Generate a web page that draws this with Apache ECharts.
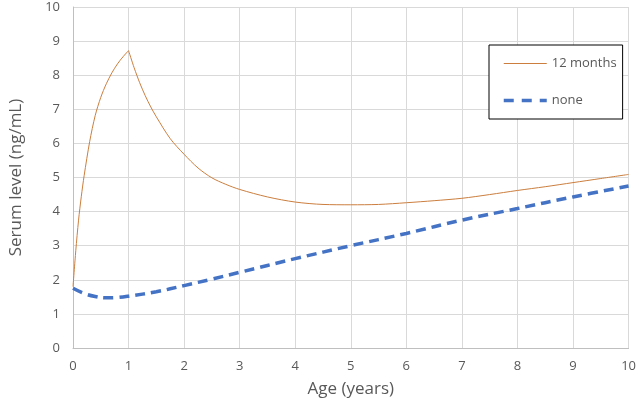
<!DOCTYPE html>
<html>
<head>
<meta charset="utf-8">
<script src="https://cdn.jsdelivr.net/npm/echarts@6/dist/echarts.min.js"></script>
<style>html,body{margin:0;padding:0;background:#fff}#c{width:639px;height:403px}</style>
</head>
<body>
<div id="c"></div>
<script>
var ageMonths12 = [0, 0.05, 0.1, 0.15, 0.2, 0.3, 0.4, 0.5, 0.6, 0.7, 0.8, 0.9, 1.0, 1.1, 1.2, 1.3, 1.4, 1.5, 1.75, 2.0, 2.25, 2.5, 2.75, 3.0, 3.5, 4.0, 4.5, 5.0, 5.5, 6.0, 6.5, 7.0, 7.5, 8.0, 8.5, 9.0, 9.5, 10.0];
var serumMonths12 = [1.8, 2.85, 3.75, 4.45, 5.05, 6.05, 6.82, 7.35, 7.75, 8.07, 8.33, 8.54, 8.72, 8.22, 7.78, 7.4, 7.07, 6.78, 6.14, 5.68, 5.28, 4.99, 4.8, 4.65, 4.43, 4.28, 4.21, 4.2, 4.21, 4.26, 4.32, 4.39, 4.5, 4.62, 4.73, 4.85, 4.97, 5.09];
var peakAge = 1.0;
var ageNone = [0, 0.2, 0.4, 0.6, 0.8, 1.0, 1.5, 2.0, 2.5, 3.0, 4.0, 5.0, 6.0, 7.0, 8.0, 9.0, 10.0];
var serumNone = [1.75, 1.6, 1.51, 1.47, 1.48, 1.52, 1.65, 1.83, 2.02, 2.22, 2.62, 3.0, 3.36, 3.75, 4.09, 4.43, 4.75];
var xTicks = [0, 1, 2, 3, 4, 5, 6, 7, 8, 9, 10];
var yTicks = [0, 1, 2, 3, 4, 5, 6, 7, 8, 9, 10];
var seriesNames = ['12 months', 'none'];

function pairs(xs, ys) { return xs.map(function (x, i) { return [x, ys[i]]; }); }
var m12 = pairs(ageMonths12, serumMonths12);
var m12Rise = m12.filter(function (p) { return p[0] <= peakAge; });
var m12Fall = m12.filter(function (p) { return p[0] >= peakAge; });

var FONT = '"Open Sans", sans-serif';
var ORANGE = '#CB7E3E';
var BLUE = '#4472C4';
var chart = echarts.init(document.getElementById('c'));
chart.setOption({
  animation: false,
  grid: { left: 69.5, right: 7.5, top: 7, bottom: 53.7, containLabel: false },
  xAxis: {
    type: 'value', min: xTicks[0], max: xTicks[xTicks.length - 1], interval: 1,
    name: 'Age (years)', nameLocation: 'middle', nameGap: 33,
    nameTextStyle: { fontFamily: FONT, fontSize: 17, color: '#595959' },
    axisLine: { show: true, lineStyle: { color: '#bfbfbf', width: 1 } },
    axisTick: { show: false },
    axisLabel: { fontFamily: FONT, fontSize: 13, color: '#595959', margin: 12 },
    splitLine: { show: true, lineStyle: { color: '#d9d9d9', width: 1 } }
  },
  yAxis: {
    type: 'value', min: yTicks[0], max: yTicks[yTicks.length - 1], interval: 1,
    name: 'Serum level (ng/mL)', nameLocation: 'middle', nameGap: 48,
    nameTextStyle: { fontFamily: FONT, fontSize: 17, color: '#595959' },
    axisLine: { show: true, lineStyle: { color: '#bfbfbf', width: 1 } },
    axisTick: { show: false },
    axisLabel: { fontFamily: FONT, fontSize: 13, color: '#595959', margin: 13 },
    splitLine: { show: true, lineStyle: { color: '#d9d9d9', width: 1 } }
  },
  legend: {
    orient: 'vertical', left: 489, top: 45,
    padding: [12, 6, 12, 13],
    borderColor: '#000', borderWidth: 1, backgroundColor: '#fff',
    itemWidth: 43, itemHeight: 14, itemGap: 24,
    itemStyle: { opacity: 0 },
    textStyle: { fontFamily: FONT, fontSize: 13, color: '#595959' },
    data: [
      { name: seriesNames[0], lineStyle: { width: 1, color: ORANGE } },
      { name: seriesNames[1], lineStyle: { width: 3.5, color: BLUE, type: [10, 8] } }
    ]
  },
  series: [
    {
      name: seriesNames[0], type: 'line', data: m12Rise,
      showSymbol: false, symbol: 'none', smooth: 0.3,
      lineStyle: { color: ORANGE, width: 1 }, itemStyle: { color: ORANGE }
    },
    {
      name: seriesNames[0], type: 'line', data: m12Fall,
      showSymbol: false, symbol: 'none', smooth: 0.3,
      lineStyle: { color: ORANGE, width: 1 }, itemStyle: { color: ORANGE }
    },
    {
      name: seriesNames[1], type: 'line', data: pairs(ageNone, serumNone),
      showSymbol: false, symbol: 'none', smooth: 0.4,
      lineStyle: { color: BLUE, width: 3.5, type: [10, 6] }, itemStyle: { color: BLUE }
    }
  ]
});
</script>
</body>
</html>
